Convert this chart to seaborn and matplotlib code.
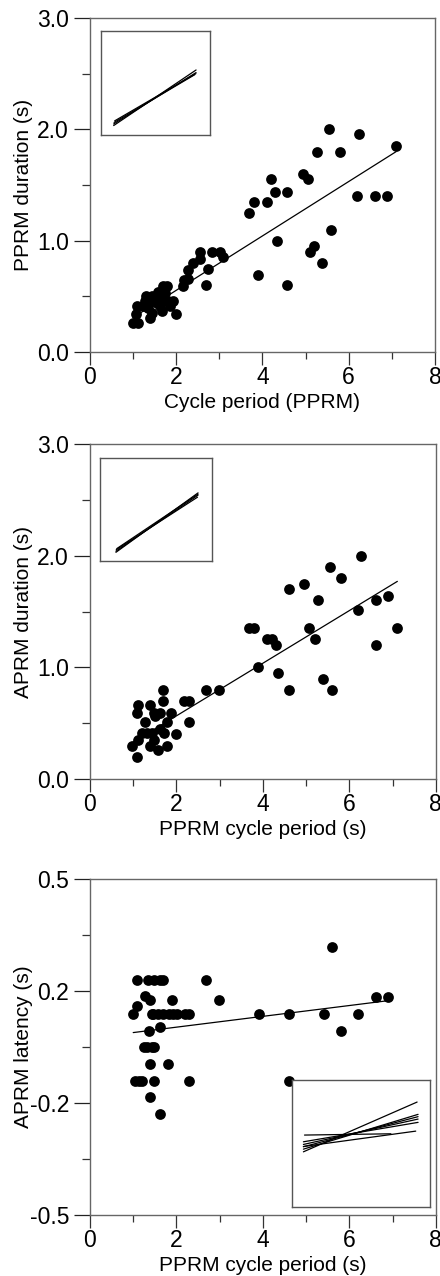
import numpy as np
import pandas as pd
import seaborn as sns
import matplotlib.pyplot as plt
from matplotlib.ticker import MultipleLocator, FixedLocator

sns.set_style("ticks")
plt.rcParams['font.family'] = ['Liberation Sans', 'DejaVu Sans']
plt.rcParams['text.color'] = 'black'
plt.rcParams['axes.labelcolor'] = 'black'
plt.rcParams['xtick.labelcolor'] = 'black'
plt.rcParams['ytick.labelcolor'] = 'black'

# Panel A: PPRM duration vs cycle period (PPRM)
a_x = [1.00, 1.12, 1.08, 1.07, 1.31, 1.28, 1.35, 1.39, 1.43, 1.55, 1.62, 1.66, 1.70, 1.78,
       1.74, 1.82, 1.85, 1.92, 1.99, 1.55, 1.47, 1.62, 1.24, 1.43, 1.70, 1.58,
       2.16, 2.18, 2.28, 2.28, 2.40, 2.55, 2.55, 2.69, 2.74, 2.84, 3.01, 3.09,
       3.69, 3.80, 3.90, 4.10, 4.20, 4.30, 4.34, 4.58, 4.58, 4.93, 5.06, 5.10,
       5.20, 5.26, 5.39, 5.55, 5.59, 5.80, 6.20, 6.24, 6.61, 6.89, 7.09]
a_y = [0.26, 0.26, 0.41, 0.34, 0.50, 0.46, 0.40, 0.31, 0.35, 0.44, 0.50, 0.37, 0.59, 0.59,
       0.53, 0.46, 0.41, 0.46, 0.34, 0.50, 0.46, 0.41, 0.41, 0.50, 0.47, 0.54,
       0.59, 0.65, 0.74, 0.66, 0.80, 0.84, 0.90, 0.60, 0.75, 0.90, 0.90, 0.85,
       1.25, 1.35, 0.69, 1.35, 1.55, 1.44, 1.00, 1.44, 0.60, 1.60, 1.55, 0.90,
       0.95, 1.80, 0.80, 2.00, 1.10, 1.80, 1.40, 1.96, 1.40, 1.40, 1.85]
a_fit_x = [1.0, 7.1]
a_fit_y = [0.31, 1.80]

# Panel B: APRM duration vs PPRM cycle period
b_x = [0.98, 1.08, 1.10, 1.08, 1.12, 1.20, 1.28, 1.31, 1.39, 1.39, 1.43, 1.47, 1.47, 1.51,
       1.58, 1.61, 1.62, 1.70, 1.70, 1.72, 1.78, 1.79, 1.87, 1.99, 2.18, 2.28, 2.28,
       2.69, 2.99, 3.69, 3.79, 3.89, 4.10, 4.21, 4.30, 4.34, 4.60, 4.60, 4.95, 5.06,
       5.20, 5.27, 5.39, 5.55, 5.60, 5.80, 6.21, 6.26, 6.61, 6.61, 6.90, 7.11]
b_y = [0.30, 0.20, 0.35, 0.59, 0.66, 0.41, 0.51, 0.41, 0.66, 0.30, 0.41, 0.59, 0.35, 0.56,
       0.26, 0.59, 0.45, 0.70, 0.80, 0.41, 0.51, 0.30, 0.59, 0.40, 0.70, 0.70, 0.51,
       0.80, 0.80, 1.35, 1.35, 1.00, 1.25, 1.25, 1.20, 0.95, 1.70, 0.80, 1.75, 1.35,
       1.25, 1.60, 0.90, 1.90, 0.80, 1.80, 1.51, 2.00, 1.60, 1.20, 1.64, 1.35]
b_fit_x = [1.0, 7.11]
b_fit_y = [0.33, 1.77]

# Panel C: APRM latency vs PPRM cycle period
c_x = [0.99, 1.08, 1.08, 1.04, 1.14, 1.20, 1.28, 1.31, 1.35, 1.37, 1.39, 1.39, 1.39, 1.43,
       1.43, 1.47, 1.49, 1.49, 1.61, 1.61, 1.62, 1.70, 1.70, 1.80, 1.82, 1.89, 1.93,
       2.01, 2.20, 2.28, 2.30, 2.69, 2.99, 3.90, 4.60, 4.60, 5.41, 5.60, 5.80, 6.21,
       6.61, 6.90, 1.25, 1.45, 1.58]
c_y = [0.099, 0.200, 0.123, -0.100, -0.100, -0.100, 0.152, 0.000, 0.200, 0.049, 0.141,
       -0.050, -0.150, 0.099, 0.000, 0.000, 0.200, -0.100, 0.059, -0.199, 0.200, 0.200,
       0.099, -0.050, 0.099, 0.141, 0.099, 0.099, 0.099, 0.099, -0.100, 0.200, 0.139,
       0.099, 0.099, -0.100, 0.099, 0.299, 0.049, 0.099, 0.150, 0.150, 0.0, 0.099, 0.099]
c_fit_x = [1.0, 6.9]
c_fit_y = [0.043, 0.138]

# inset line endpoints (inset-fraction units)
ins_a = [(0.116, 0.090, 0.872, 0.625), (0.116, 0.105, 0.872, 0.600),
         (0.120, 0.120, 0.860, 0.580), (0.125, 0.135, 0.870, 0.590)]
ins_b = [(0.142, 0.084, 0.875, 0.662), (0.142, 0.095, 0.875, 0.640),
         (0.145, 0.110, 0.870, 0.620), (0.150, 0.120, 0.875, 0.650)]
ins_c = [(0.083, 0.434, 0.907, 0.826), (0.083, 0.455, 0.914, 0.729),
         (0.083, 0.474, 0.914, 0.711), (0.083, 0.492, 0.914, 0.692),
         (0.083, 0.513, 0.914, 0.666), (0.091, 0.566, 0.717, 0.576),
         (0.083, 0.476, 0.897, 0.597)]

fig = plt.figure(figsize=(4.4, 12.76), dpi=100)

panels = [
    dict(x=a_x, y=a_y, fx=a_fit_x, fy=a_fit_y, ins=ins_a, pos=[0.2045, 0.7241, 0.784, 0.2618],
         ipos=[0.032, 0.650, 0.316, 0.311], ylabel="PPRM duration (s)", xlabel="Cycle period (PPRM)",
         ylim=(0, 3), yt=[0, 1, 2, 3], ylab=["0.0", "1.0", "2.0", "3.0"], ymin=[0.5, 1.5, 2.5]),
    dict(x=b_x, y=b_y, fx=b_fit_x, fy=b_fit_y, ins=ins_b, pos=[0.2045, 0.3895, 0.786, 0.2625],
         ipos=[0.029, 0.651, 0.324, 0.307], ylabel="APRM duration (s)", xlabel="PPRM cycle period (s)",
         ylim=(0, 3), yt=[0, 1, 2, 3], ylab=["0.0", "1.0", "2.0", "3.0"], ymin=[0.5, 1.5, 2.5]),
    dict(x=c_x, y=c_y, fx=c_fit_x, fy=c_fit_y, ins=ins_c, pos=[0.2045, 0.0478, 0.786, 0.2633],
         ipos=[0.584, 0.024, 0.399, 0.378], ylabel="APRM latency (s)", xlabel="PPRM cycle period (s)",
         ylim=(-0.5, 0.5), yt=[-0.5, -1/6, 1/6, 0.5], ylab=["-0.5", "-0.2", "0.2", "0.5"],
         ymin=[-1/3, 0, 1/3]),
]

for p in panels:
    ax = fig.add_axes(p['pos'])
    df = pd.DataFrame({'x': p['x'], 'y': p['y']})
    sns.scatterplot(data=df, x='x', y='y', ax=ax, color='black', s=60, linewidth=0, zorder=3)
    sns.lineplot(x=p['fx'], y=p['fy'], ax=ax, color='black', lw=0.9, zorder=2)
    ax.set_xlim(0, 8)
    ax.set_ylim(*p['ylim'])
    ax.xaxis.set_major_locator(MultipleLocator(2))
    ax.xaxis.set_minor_locator(MultipleLocator(1))
    ax.yaxis.set_major_locator(FixedLocator(p['yt']))
    ax.set_yticklabels(p['ylab'])
    ax.yaxis.set_minor_locator(FixedLocator(p['ymin']))
    ax.tick_params(axis='x', which='major', length=9.4, width=0.9, pad=0.8, labelsize=16.5,
                   color='#333333', labelcolor='black')
    ax.tick_params(axis='x', which='minor', length=5, width=0.9, color='#333333')
    ax.tick_params(axis='y', which='major', length=11.5, width=0.9, pad=3.6, labelsize=16.5,
                   color='#222222', labelcolor='black')
    ax.tick_params(axis='y', which='minor', length=5.5, width=0.9, color='#333333')
    for s in ax.spines.values():
        s.set_visible(True)
        s.set_color('#666666')
        s.set_linewidth(1.0)
    ax.set_xlabel(p['xlabel'], fontsize=15, labelpad=3, color='black')
    ax.set_ylabel(p['ylabel'], fontsize=15, color='black')
    ax.yaxis.set_label_coords(-0.165, 0.5)

    ins = ax.inset_axes(p['ipos'])
    for x0, y0, x1, y1 in p['ins']:
        ins.plot([x0, x1], [y0, y1], color='black', lw=0.9)
    ins.set_xlim(0, 1)
    ins.set_ylim(0, 1)
    ins.set_xticks([])
    ins.set_yticks([])
    for s in ins.spines.values():
        s.set_color('#555555')
        s.set_linewidth(1.0)

fig.savefig("out.png", dpi=100)
